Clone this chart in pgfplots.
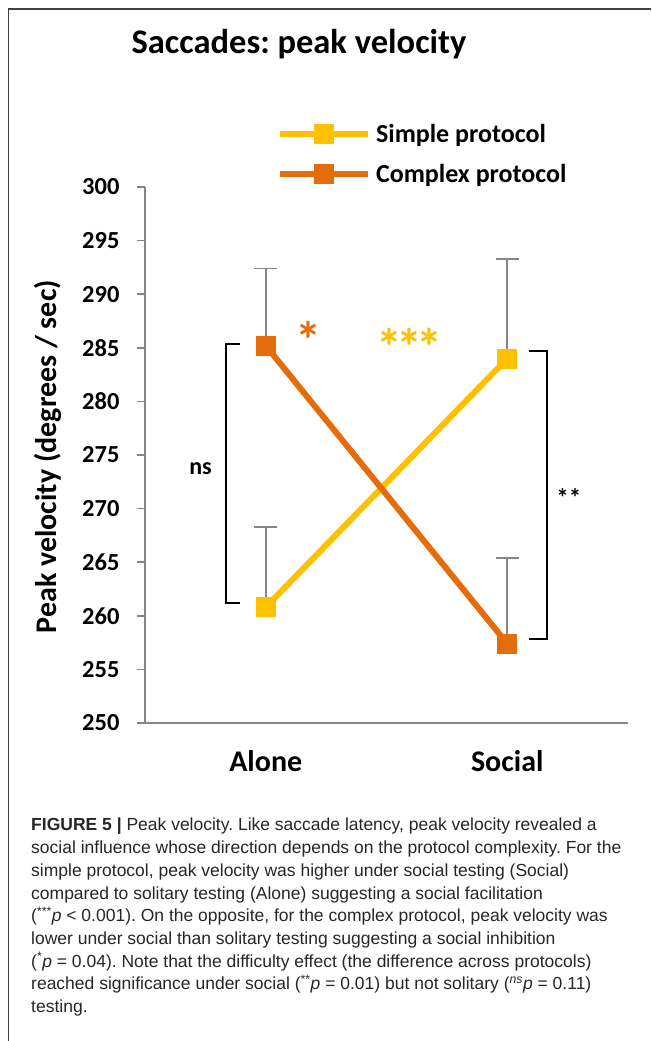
\documentclass[border=0pt]{standalone}
\usepackage{fontspec}
\setmainfont{Carlito}
\newfontfamily\capfont{Liberation Sans}
\usepackage{pgfplots}
\pgfplotsset{compat=1.18}
\frenchspacing
\definecolor{simple}{HTML}{FFC000}
\definecolor{complex}{HTML}{E46C0A}
\definecolor{axgray}{HTML}{868686}
\newcommand\capline[2]{\node[anchor=base west, inner sep=0pt, font=\capfont\fontsize{17.5}{20}\selectfont, text=black!85] at (31,#1) {#2};}
\begin{document}
\begin{tikzpicture}[x=1pt,y=1pt]
\useasboundingbox (0,0) rectangle (651,1041);
% frame
\draw[line width=1.4pt, black!75] (8.7,0) -- (8.7,1032) -- (651,1032);
% title
\node[font=\bfseries\fontsize{34.5}{38}\selectfont] at (299,997) {Saccades: peak velocity};

\begin{axis}[
  at={(145pt,318pt)}, anchor=south west,
  scale only axis, width=483pt, height=536pt,
  xmin=-0.5, xmax=1.5, ymin=250, ymax=300,
  xtick={0,1}, xticklabels={Alone,Social},
  ytick={250,255,...,300},
  axis x line*=bottom, axis y line*=left,
  axis line style={axgray, line width=1.6pt},
  tick align=outside, major tick length=8pt,
  y tick style={axgray, line width=1.6pt},
  x tick style={draw=none},
  /pgf/number format/assume math mode=true,
  yticklabel style={font=\bfseries\fontsize{24.5}{26}\selectfont, xshift=-14pt},
  xticklabel style={font=\bfseries\fontsize{30}{32}\selectfont, yshift=-16pt},
  ylabel={Peak velocity (degrees / sec)},
  ylabel style={at={(axis description cs:-0.2,0.497)}, anchor=center, font=\bfseries\fontsize{30}{32}\selectfont},
  clip=false,
  legend cell align=left,
  legend style={draw=none, fill=none, at={(axis description cs:0.273,1.1175)}, anchor=north west,
    font=\bfseries\fontsize{26}{28}\selectfont, row sep=20pt, inner sep=0pt,
    nodes={inner sep=0pt}, /tikz/every odd column/.append style={column sep=5pt}},
  legend image code/.code={\draw[mark repeat=2, mark phase=2, #1] plot coordinates {(0pt,0pt) (44pt,0pt) (88pt,0pt)};},
]
% error bars (upper only)
\addplot[draw=none, mark=none, forget plot,
  error bars/.cd, y dir=plus, y explicit,
  error bar style={axgray, line width=1.6pt},
  error mark options={rotate=90, axgray, mark size=11.5pt, line width=1.6pt}]
  coordinates {(0,260.8) +- (0,7.5) (1,284.0) +- (0,9.3)};
\addplot[draw=none, mark=none, forget plot,
  error bars/.cd, y dir=plus, y explicit,
  error bar style={axgray, line width=1.6pt},
  error mark options={rotate=90, axgray, mark size=11.5pt, line width=1.6pt}]
  coordinates {(0,285.2) +- (0,7.2) (1,257.4) +- (0,8.0)};

\addplot[simple, line width=6pt, mark=square*, mark size=9.5pt, mark options={line width=0pt, fill=simple}]
  coordinates {(0,260.8) (1,284.0)};
\addlegendentry{Simple protocol}
\addplot[complex, line width=6pt, mark=square*, mark size=9.5pt, mark options={line width=0pt, fill=complex}]
  coordinates {(0,285.2) (1,257.4)};
\addlegendentry{Complex protocol}

% significance brackets
\draw[black, line width=2pt] (axis cs:-0.107,285.4) -- (axis cs:-0.165,285.4) -- (axis cs:-0.165,261.2) -- (axis cs:-0.107,261.2);
\draw[black, line width=2pt] (axis cs:1.089,284.7) -- (axis cs:1.164,284.7) -- (axis cs:1.164,257.8) -- (axis cs:1.089,257.8);
\node[font=\bfseries\fontsize{24}{26}\selectfont] at (axis cs:-0.27,273.7) {ns};
\node[font=\bfseries\fontsize{25}{26}\selectfont] at (axis cs:1.255,271.05) {**};
\node[font=\bfseries\fontsize{52}{54}\selectfont, text=complex] at (axis cs:0.178,285.7) {*};
\node[font=\bfseries\fontsize{52}{54}\selectfont, text=simple] at (axis cs:0.594,285.05) {*\hspace{-6pt}*\hspace{-6pt}*};
\end{axis}

% caption
\capline{210}{\textbf{FIGURE 5 \textbar} Peak velocity. Like saccade latency, peak velocity revealed a}
\capline{187.3}{social influence whose direction depends on the protocol complexity. For the}
\capline{164.6}{simple protocol, peak velocity was higher under social testing (Social)}
\capline{141.9}{compared to solitary testing (Alone) suggesting a social facilitation}
\capline{119.2}{(\textsuperscript{***}\textit{p} < 0.001). On the opposite, for the complex protocol, peak velocity was}
\capline{96.5}{lower under social than solitary testing suggesting a social inhibition}
\capline{73.8}{(\textsuperscript{*}\textit{p} = 0.04). Note that the difficulty effect (the difference across protocols)}
\capline{51.1}{reached significance under social (\textsuperscript{**}\textit{p} = 0.01) but not solitary (\textsuperscript{\textit{ns}}\textit{p} = 0.11)}
\capline{28.4}{testing.}
\end{tikzpicture}
\end{document}
